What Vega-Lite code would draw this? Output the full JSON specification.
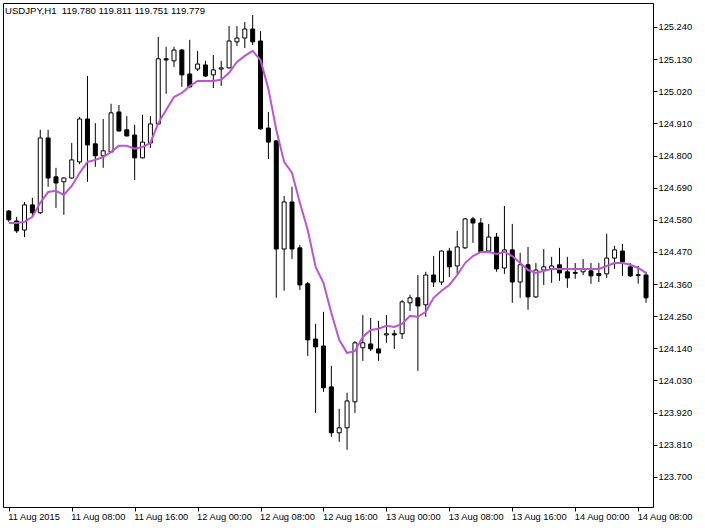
{
  "$schema": "https://vega.github.io/schema/vega-lite/v6.json",
  "width": 650,
  "height": 504,
  "autosize": "none",
  "padding": {"left": 3, "top": 3, "right": 52, "bottom": 21},
  "background": "white",
  "title": {
    "text": "USDJPY,H1\u00a0 119.780 119.811 119.751 119.779",
    "anchor": "start",
    "frame": "group",
    "offset": -13,
    "dx": 2,
    "font": "Liberation Sans",
    "fontSize": 9.6,
    "fontWeight": "normal",
    "color": "black"
  },
  "data": {
    "values": [
      {"t": "2015-08-11T00:00:00Z", "o": 124.610, "h": 124.614, "l": 124.573, "c": 124.580, "ma": 124.569},
      {"t": "2015-08-11T01:00:00Z", "o": 124.576, "h": 124.590, "l": 124.535, "c": 124.542, "ma": 124.569},
      {"t": "2015-08-11T02:00:00Z", "o": 124.545, "h": 124.641, "l": 124.521, "c": 124.631, "ma": 124.573},
      {"t": "2015-08-11T03:00:00Z", "o": 124.631, "h": 124.655, "l": 124.590, "c": 124.604, "ma": 124.590},
      {"t": "2015-08-11T04:00:00Z", "o": 124.604, "h": 124.888, "l": 124.600, "c": 124.860, "ma": 124.638},
      {"t": "2015-08-11T05:00:00Z", "o": 124.860, "h": 124.888, "l": 124.693, "c": 124.723, "ma": 124.675},
      {"t": "2015-08-11T06:00:00Z", "o": 124.727, "h": 124.758, "l": 124.621, "c": 124.706, "ma": 124.679},
      {"t": "2015-08-11T07:00:00Z", "o": 124.710, "h": 124.725, "l": 124.597, "c": 124.723, "ma": 124.665},
      {"t": "2015-08-11T08:00:00Z", "o": 124.723, "h": 124.843, "l": 124.720, "c": 124.785, "ma": 124.696},
      {"t": "2015-08-11T09:00:00Z", "o": 124.778, "h": 124.932, "l": 124.770, "c": 124.925, "ma": 124.740},
      {"t": "2015-08-11T10:00:00Z", "o": 124.925, "h": 125.072, "l": 124.710, "c": 124.836, "ma": 124.778},
      {"t": "2015-08-11T11:00:00Z", "o": 124.840, "h": 124.911, "l": 124.761, "c": 124.799, "ma": 124.785},
      {"t": "2015-08-11T12:00:00Z", "o": 124.799, "h": 124.925, "l": 124.758, "c": 124.816, "ma": 124.795},
      {"t": "2015-08-11T13:00:00Z", "o": 124.812, "h": 124.977, "l": 124.810, "c": 124.946, "ma": 124.812},
      {"t": "2015-08-11T14:00:00Z", "o": 124.949, "h": 124.973, "l": 124.882, "c": 124.884, "ma": 124.833},
      {"t": "2015-08-11T15:00:00Z", "o": 124.888, "h": 124.935, "l": 124.865, "c": 124.867, "ma": 124.833},
      {"t": "2015-08-11T16:00:00Z", "o": 124.870, "h": 124.905, "l": 124.716, "c": 124.792, "ma": 124.823},
      {"t": "2015-08-11T17:00:00Z", "o": 124.792, "h": 124.939, "l": 124.790, "c": 124.846, "ma": 124.829},
      {"t": "2015-08-11T18:00:00Z", "o": 124.843, "h": 124.935, "l": 124.826, "c": 124.908, "ma": 124.843},
      {"t": "2015-08-11T19:00:00Z", "o": 124.908, "h": 125.206, "l": 124.905, "c": 125.131, "ma": 124.911},
      {"t": "2015-08-11T20:00:00Z", "o": 125.131, "h": 125.172, "l": 125.011, "c": 125.127, "ma": 124.956},
      {"t": "2015-08-11T21:00:00Z", "o": 125.124, "h": 125.172, "l": 125.103, "c": 125.161, "ma": 125.000},
      {"t": "2015-08-11T22:00:00Z", "o": 125.161, "h": 125.165, "l": 125.035, "c": 125.076, "ma": 125.014},
      {"t": "2015-08-11T23:00:00Z", "o": 125.079, "h": 125.196, "l": 125.032, "c": 125.035, "ma": 125.038},
      {"t": "2015-08-12T00:00:00Z", "o": 125.096, "h": 125.158, "l": 125.089, "c": 125.113, "ma": 125.055},
      {"t": "2015-08-12T01:00:00Z", "o": 125.110, "h": 125.124, "l": 125.069, "c": 125.072, "ma": 125.055},
      {"t": "2015-08-12T02:00:00Z", "o": 125.076, "h": 125.144, "l": 125.031, "c": 125.093, "ma": 125.055},
      {"t": "2015-08-12T03:00:00Z", "o": 125.096, "h": 125.124, "l": 125.038, "c": 125.100, "ma": 125.059},
      {"t": "2015-08-12T04:00:00Z", "o": 125.100, "h": 125.243, "l": 125.098, "c": 125.192, "ma": 125.083},
      {"t": "2015-08-12T05:00:00Z", "o": 125.189, "h": 125.243, "l": 125.175, "c": 125.202, "ma": 125.120},
      {"t": "2015-08-12T06:00:00Z", "o": 125.202, "h": 125.257, "l": 125.168, "c": 125.233, "ma": 125.141},
      {"t": "2015-08-12T07:00:00Z", "o": 125.233, "h": 125.281, "l": 125.178, "c": 125.189, "ma": 125.158},
      {"t": "2015-08-12T08:00:00Z", "o": 125.192, "h": 125.226, "l": 124.889, "c": 124.891, "ma": 125.127},
      {"t": "2015-08-12T09:00:00Z", "o": 124.894, "h": 124.949, "l": 124.788, "c": 124.846, "ma": 125.028},
      {"t": "2015-08-12T10:00:00Z", "o": 124.850, "h": 124.852, "l": 124.313, "c": 124.480, "ma": 124.888},
      {"t": "2015-08-12T11:00:00Z", "o": 124.480, "h": 124.662, "l": 124.337, "c": 124.641, "ma": 124.778},
      {"t": "2015-08-12T12:00:00Z", "o": 124.641, "h": 124.693, "l": 124.446, "c": 124.480, "ma": 124.740},
      {"t": "2015-08-12T13:00:00Z", "o": 124.484, "h": 124.494, "l": 124.340, "c": 124.357, "ma": 124.638},
      {"t": "2015-08-12T14:00:00Z", "o": 124.361, "h": 124.367, "l": 124.114, "c": 124.169, "ma": 124.545},
      {"t": "2015-08-12T15:00:00Z", "o": 124.172, "h": 124.224, "l": 123.919, "c": 124.145, "ma": 124.419},
      {"t": "2015-08-12T16:00:00Z", "o": 124.148, "h": 124.265, "l": 123.991, "c": 124.005, "ma": 124.364},
      {"t": "2015-08-12T17:00:00Z", "o": 124.008, "h": 124.080, "l": 123.837, "c": 123.851, "ma": 124.261},
      {"t": "2015-08-12T18:00:00Z", "o": 123.851, "h": 123.933, "l": 123.820, "c": 123.868, "ma": 124.169},
      {"t": "2015-08-12T19:00:00Z", "o": 123.868, "h": 123.988, "l": 123.793, "c": 123.960, "ma": 124.124},
      {"t": "2015-08-12T20:00:00Z", "o": 123.957, "h": 124.165, "l": 123.919, "c": 124.159, "ma": 124.131},
      {"t": "2015-08-12T21:00:00Z", "o": 124.142, "h": 124.254, "l": 124.097, "c": 124.159, "ma": 124.179},
      {"t": "2015-08-12T22:00:00Z", "o": 124.155, "h": 124.244, "l": 124.131, "c": 124.138, "ma": 124.203},
      {"t": "2015-08-12T23:00:00Z", "o": 124.138, "h": 124.234, "l": 124.097, "c": 124.124, "ma": 124.207},
      {"t": "2015-08-13T00:00:00Z", "o": 124.186, "h": 124.254, "l": 124.159, "c": 124.190, "ma": 124.217},
      {"t": "2015-08-13T01:00:00Z", "o": 124.190, "h": 124.203, "l": 124.138, "c": 124.186, "ma": 124.213},
      {"t": "2015-08-13T02:00:00Z", "o": 124.190, "h": 124.306, "l": 124.172, "c": 124.299, "ma": 124.224},
      {"t": "2015-08-13T03:00:00Z", "o": 124.296, "h": 124.323, "l": 124.268, "c": 124.313, "ma": 124.251},
      {"t": "2015-08-13T04:00:00Z", "o": 124.313, "h": 124.391, "l": 124.063, "c": 124.285, "ma": 124.248},
      {"t": "2015-08-13T05:00:00Z", "o": 124.289, "h": 124.402, "l": 124.248, "c": 124.391, "ma": 124.265},
      {"t": "2015-08-13T06:00:00Z", "o": 124.391, "h": 124.456, "l": 124.350, "c": 124.367, "ma": 124.313},
      {"t": "2015-08-13T07:00:00Z", "o": 124.367, "h": 124.475, "l": 124.357, "c": 124.473, "ma": 124.337},
      {"t": "2015-08-13T08:00:00Z", "o": 124.473, "h": 124.484, "l": 124.384, "c": 124.419, "ma": 124.357},
      {"t": "2015-08-13T09:00:00Z", "o": 124.422, "h": 124.542, "l": 124.395, "c": 124.487, "ma": 124.391},
      {"t": "2015-08-13T10:00:00Z", "o": 124.484, "h": 124.586, "l": 124.480, "c": 124.583, "ma": 124.432},
      {"t": "2015-08-13T11:00:00Z", "o": 124.583, "h": 124.590, "l": 124.501, "c": 124.569, "ma": 124.456},
      {"t": "2015-08-13T12:00:00Z", "o": 124.569, "h": 124.586, "l": 124.468, "c": 124.470, "ma": 124.470},
      {"t": "2015-08-13T13:00:00Z", "o": 124.473, "h": 124.566, "l": 124.467, "c": 124.521, "ma": 124.470},
      {"t": "2015-08-13T14:00:00Z", "o": 124.521, "h": 124.535, "l": 124.402, "c": 124.412, "ma": 124.463},
      {"t": "2015-08-13T15:00:00Z", "o": 124.415, "h": 124.627, "l": 124.395, "c": 124.477, "ma": 124.470},
      {"t": "2015-08-13T16:00:00Z", "o": 124.477, "h": 124.566, "l": 124.296, "c": 124.367, "ma": 124.456},
      {"t": "2015-08-13T17:00:00Z", "o": 124.367, "h": 124.467, "l": 124.313, "c": 124.426, "ma": 124.432},
      {"t": "2015-08-13T18:00:00Z", "o": 124.426, "h": 124.487, "l": 124.272, "c": 124.316, "ma": 124.408},
      {"t": "2015-08-13T19:00:00Z", "o": 124.316, "h": 124.432, "l": 124.313, "c": 124.408, "ma": 124.398},
      {"t": "2015-08-13T20:00:00Z", "o": 124.408, "h": 124.480, "l": 124.357, "c": 124.419, "ma": 124.405},
      {"t": "2015-08-13T21:00:00Z", "o": 124.412, "h": 124.453, "l": 124.364, "c": 124.422, "ma": 124.412},
      {"t": "2015-08-13T22:00:00Z", "o": 124.426, "h": 124.484, "l": 124.371, "c": 124.398, "ma": 124.412},
      {"t": "2015-08-13T23:00:00Z", "o": 124.402, "h": 124.453, "l": 124.347, "c": 124.381, "ma": 124.412},
      {"t": "2015-08-14T00:00:00Z", "o": 124.400, "h": 124.432, "l": 124.378, "c": 124.397, "ma": 124.412},
      {"t": "2015-08-14T01:00:00Z", "o": 124.402, "h": 124.446, "l": 124.391, "c": 124.412, "ma": 124.412},
      {"t": "2015-08-14T02:00:00Z", "o": 124.405, "h": 124.432, "l": 124.361, "c": 124.388, "ma": 124.412},
      {"t": "2015-08-14T03:00:00Z", "o": 124.396, "h": 124.432, "l": 124.367, "c": 124.389, "ma": 124.412},
      {"t": "2015-08-14T04:00:00Z", "o": 124.395, "h": 124.532, "l": 124.381, "c": 124.449, "ma": 124.422},
      {"t": "2015-08-14T05:00:00Z", "o": 124.449, "h": 124.491, "l": 124.412, "c": 124.477, "ma": 124.432},
      {"t": "2015-08-14T06:00:00Z", "o": 124.473, "h": 124.497, "l": 124.388, "c": 124.436, "ma": 124.432},
      {"t": "2015-08-14T07:00:00Z", "o": 124.419, "h": 124.432, "l": 124.384, "c": 124.388, "ma": 124.426},
      {"t": "2015-08-14T08:00:00Z", "o": 124.392, "h": 124.422, "l": 124.361, "c": 124.389, "ma": 124.415},
      {"t": "2015-08-14T09:00:00Z", "o": 124.391, "h": 124.402, "l": 124.296, "c": 124.313, "ma": 124.398}
    ]
  },
  "encoding": {
    "x": {
      "field": "t",
      "type": "temporal",
      "title": null,
      "scale": {
        "type": "utc",
        "domain": [
          {"year": 2015, "month": 8, "date": 10, "hours": 23, "minutes": 54, "utc": true},
          {"year": 2015, "month": 8, "date": 14, "hours": 9, "minutes": 15, "utc": true}
        ]
      },
      "axis": {
        "orient": "bottom",
        "values": [
          {"year": 2015, "month": 8, "date": 11, "hours": 0, "utc": true},
          {"year": 2015, "month": 8, "date": 11, "hours": 8, "utc": true},
          {"year": 2015, "month": 8, "date": 11, "hours": 16, "utc": true},
          {"year": 2015, "month": 8, "date": 12, "hours": 0, "utc": true},
          {"year": 2015, "month": 8, "date": 12, "hours": 8, "utc": true},
          {"year": 2015, "month": 8, "date": 12, "hours": 16, "utc": true},
          {"year": 2015, "month": 8, "date": 13, "hours": 0, "utc": true},
          {"year": 2015, "month": 8, "date": 13, "hours": 8, "utc": true},
          {"year": 2015, "month": 8, "date": 13, "hours": 16, "utc": true},
          {"year": 2015, "month": 8, "date": 14, "hours": 0, "utc": true},
          {"year": 2015, "month": 8, "date": 14, "hours": 8, "utc": true}
        ],
        "tickCount": 30,
        "labelExpr": "utcdate(datum.value) == 11 && utchours(datum.value) == 0 ? '11 Aug 2015' : utcFormat(datum.value, '%d %b %H:%M')",
        "labelAlign": "left",
        "labelBaseline": "top",
        "labelPadding": 1,
        "labelOffset": -1,
        "tickSize": 4
      }
    }
  },
  "layer": [
    {
      "mark": {"type": "rule", "color": "black", "strokeWidth": 1, "clip": true},
      "encoding": {
        "y": {
          "field": "l",
          "type": "quantitative",
          "title": null,
          "scale": {"domain": [123.597, 125.322], "nice": false, "zero": false},
          "axis": {
            "orient": "right",
            "values": [123.7, 123.81, 123.92, 124.03, 124.14, 124.25, 124.36, 124.47, 124.58, 124.69, 124.8, 124.91, 125.02, 125.13, 125.24],
            "tickCount": 30,
            "format": ".3f",
            "tickSize": 4,
            "labelPadding": 1
          }
        },
        "y2": {"field": "h"}
      }
    },
    {
      "mark": {"type": "bar", "size": 4, "stroke": "black", "strokeWidth": 1, "clip": true},
      "encoding": {
        "y": {"field": "o", "type": "quantitative", "title": null},
        "y2": {"field": "c"},
        "fill": {
          "condition": {"test": "datum.c > datum.o", "value": "white"},
          "value": "black"
        }
      }
    },
    {
      "mark": {"type": "line", "color": "#BA55D3", "strokeWidth": 2, "clip": true},
      "encoding": {
        "y": {"field": "ma", "type": "quantitative", "title": null}
      }
    }
  ],
  "config": {
    "view": {"stroke": "black", "strokeWidth": 1},
    "axis": {
      "labelFont": "Liberation Sans",
      "labelFontSize": 9.3,
      "labelColor": "black",
      "tickColor": "black",
      "domain": false,
      "grid": false,
      "labelOverlap": false,
      "labelFlush": false,
      "labelBound": false
    }
  }
}
